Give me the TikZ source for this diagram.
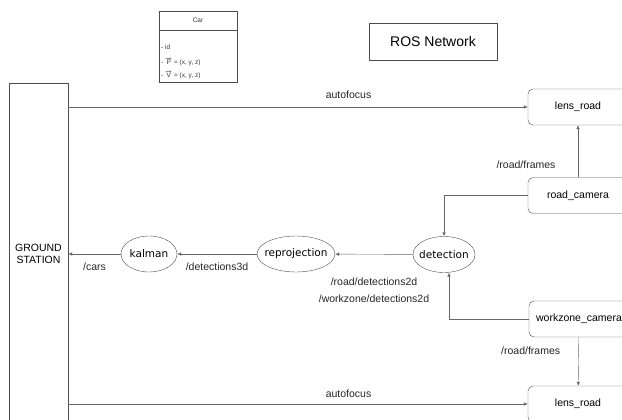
\documentclass[tikz,border=0pt]{standalone}
\usepackage{amsmath}
\usepackage{fontspec}
\setmainfont{Liberation Sans}
\newfontfamily\topicfont{DejaVu Sans}
\usepackage{tikz}
\usetikzlibrary{positioning}
\usetikzlibrary{shapes.geometric}
\usetikzlibrary{arrows.meta}

\begin{document}
\begin{tikzpicture}[
    x=1pt, y=-1pt, % pixel-like units, y pointing down
    box/.style={
        draw=black!70,
        rectangle,
        rounded corners=5pt,
        minimum width=100pt,
        minimum height=36pt,
        font=\fontsize{10.5}{12}\selectfont
    },
    topic/.style={
        draw=black!70,
        ellipse,
        inner xsep=-4pt,
        inner ysep=0pt,
        minimum height=36pt,
        font=\topicfont\fontsize{10.5}{12}\selectfont
    },
    station/.style={
        draw=black!70,
        rectangle,
        minimum width=59pt,
        minimum height=342pt,
        align=center,
        font=\fontsize{10.5}{12.5}\selectfont
    },
    lbl/.style={
        font=\fontsize{10.5}{12}\selectfont,
        text=black!85
    },
    cartext/.style={
        font=\fontsize{6.5}{7}\selectfont,
        text=black!80,
        inner sep=1pt
    },
    arrow/.style={
        -{Latex[length=4pt,width=3.5pt]},
        draw=black!60
    }
]
    \useasboundingbox (0,0) rectangle (622,420);
    \clip (0,0) rectangle (622,420);

    % --- Legend boxes ---
    \node[draw=black!70, minimum width=78pt, minimum height=71pt, inner sep=0pt, anchor=north west] (car) at (159,11) {};
    \draw[draw=black!70] (car.west |- 0,30) -- (car.east |- 0,30);
    \node[cartext] (carname) at (198,20) {Car};
    \node[cartext, anchor=west] (carid) at (160,47) {- id};
    \node[cartext, anchor=west] (carpos) at (160,62) {- \(\overrightarrow{\textrm{P}}\) = (x, y, z)};
    \node[cartext, anchor=west] (carvel) at (160,75) {- \(\overrightarrow{\textrm{V}}\) = (x, y, z)};

    \node[draw=black!70, minimum width=128pt, minimum height=37pt, font=\fontsize{14}{16}\selectfont] (ros) at (433,41.5) {ROS Network};

    % --- Ground station and ROS nodes ---
    \node[station] (gs) at (38.5,254) {GROUND\\STATION};

    \node[topic, minimum width=56pt] (kalman) at (149,254) {kalman};
    \node[topic, minimum width=78pt] (reproj) at (296,254) {reprojection};
    \node[topic, minimum width=62pt] (detect) at (444,254.5) {detection};

    \node[box] (lensA)   at (578,107) {lens\_road};
    \node[box] (roadcam) at (578,195.5) {road\_camera};
    \node[box] (wzcam)   at (579,319) {workzone\_camera};
    \node[box] (lensB)   at (578,404) {lens\_road};

    % --- Topics between the nodes ---
    \draw[arrow] (gs.east |- lensA) -- node[lbl, pos=0.61, above=5pt] {autofocus} (lensA.west);
    \draw[arrow] (gs.east |- lensB) -- node[lbl, pos=0.61, above=3pt] {autofocus} (lensB.west);

    \draw[arrow] (roadcam) -- node[lbl, pos=0.24, left=19pt] {/road/frames} (lensA);
    \draw[arrow] (wzcam) -- node[lbl, pos=0.27, left=15pt] {/road/frames} (lensB);

    \draw[arrow] (roadcam.west) -| (detect.north);
    \draw[arrow] (wzcam.west) -| ([xshift=5pt]detect.south);

    \draw[arrow] (detect) -- node[lbl, midway, below=20pt] {/road/detections2d}
                             node[lbl, midway, below=37pt] {/workzone/detections2d} (reproj);
    \draw[arrow] (reproj) -- node[lbl, midway, below=5pt] {/detections3d} (kalman);
    \draw[arrow] (kalman) -- node[lbl, midway, below=5pt] {/cars} (kalman -| gs.east);
\end{tikzpicture}
\end{document}
